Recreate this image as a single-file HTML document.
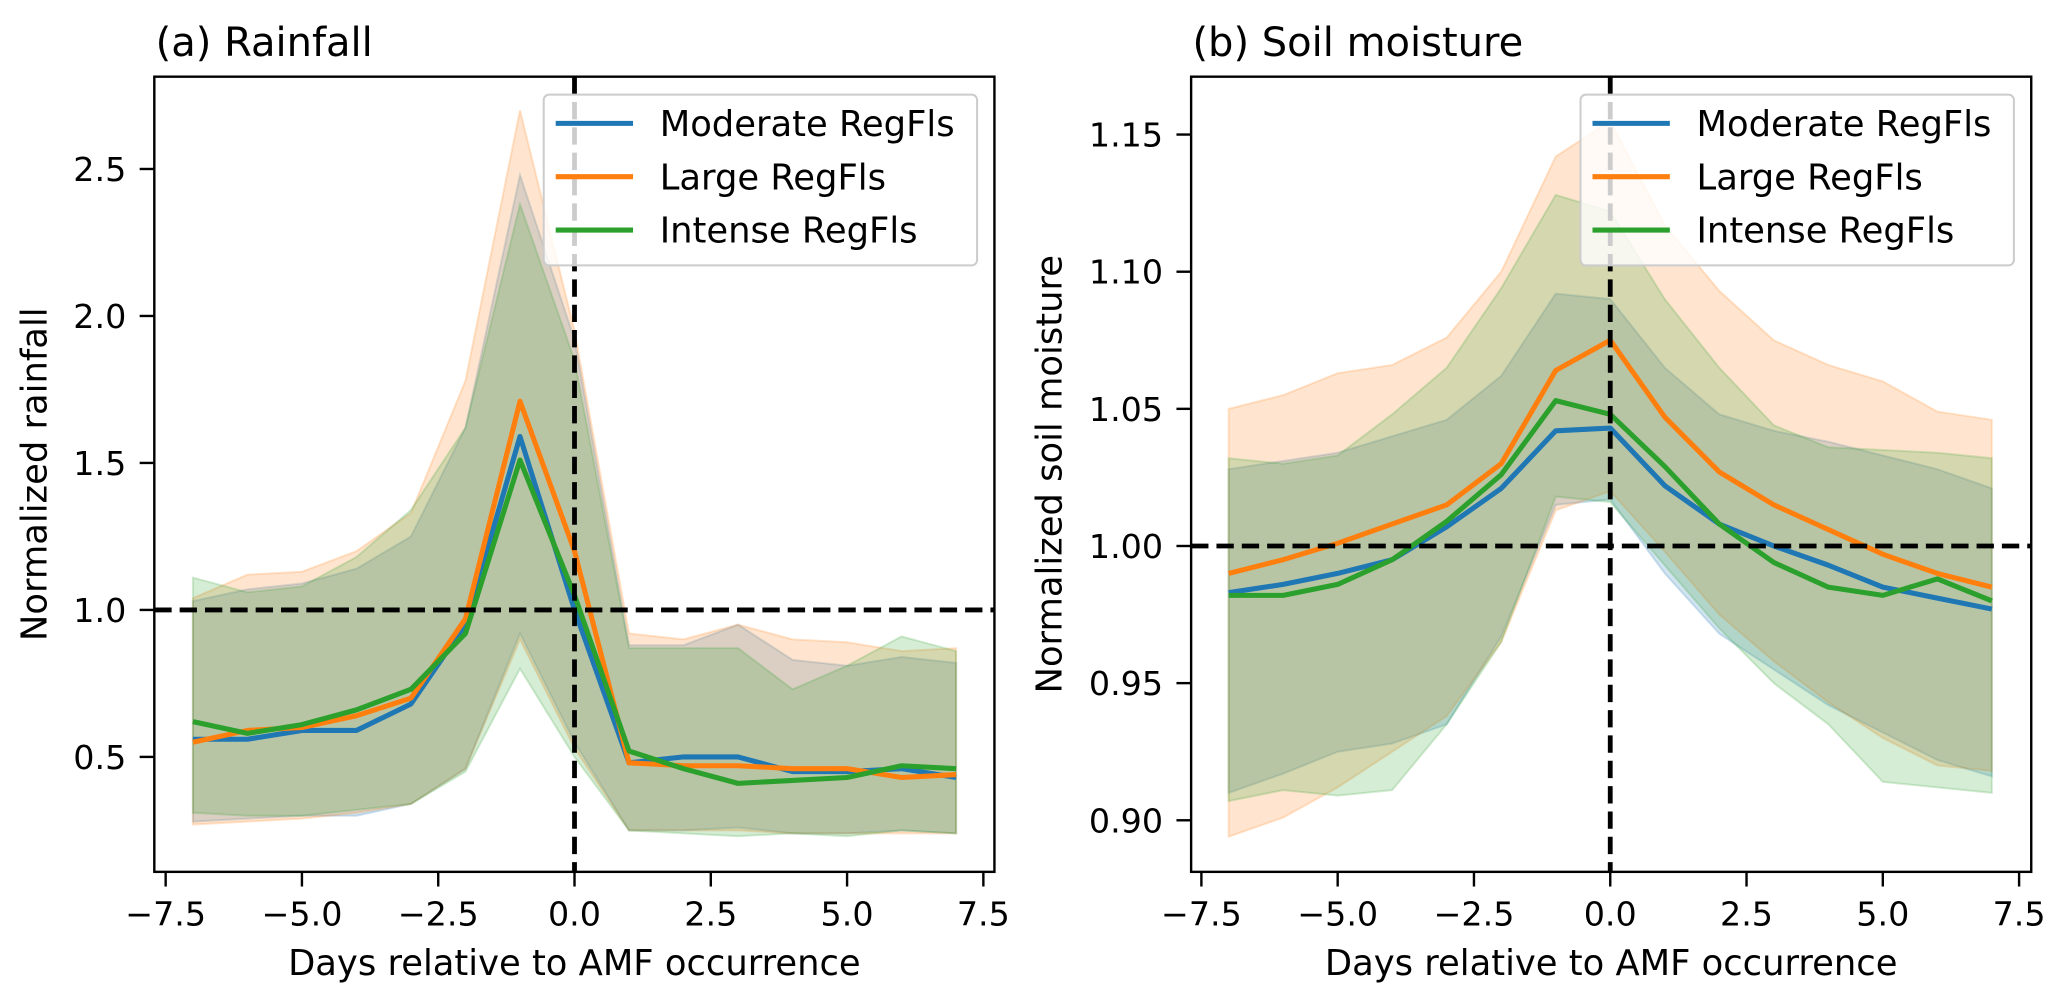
<!DOCTYPE html>
<html><head><meta charset="utf-8"><style>
html,body{margin:0;padding:0;background:#fff;overflow:hidden}
svg text{font-family:"DejaVu Sans","Liberation Sans",sans-serif;fill:#000}
</style></head><body>
<svg id="chart" width="2067" height="1002" viewBox="0 0 1550 751.4" xmlns="http://www.w3.org/2000/svg"></svg>
<script>
const days=[-7,-6,-5,-4,-3,-2,-1,0,1,2,3,4,5,6,7];
const seriesNames=["Moderate RegFls","Large RegFls","Intense RegFls"];
const colors=["#1f77b4","#ff7f0e","#2ca02c"];
const rainMean=[
[.56,.56,.59,.59,.68,.95,1.59,1.0,.48,.50,.50,.45,.45,.46,.43],
[.55,.59,.60,.64,.70,.97,1.71,1.2,.48,.47,.47,.46,.46,.43,.44],
[.62,.58,.61,.66,.73,.92,1.51,1.05,.52,.46,.41,.42,.43,.47,.46]];
const rainUpper=[
[1.03,1.07,1.09,1.14,1.25,1.62,2.48,1.92,.88,.88,.95,.83,.81,.84,.82],
[1.04,1.12,1.13,1.20,1.33,1.78,2.70,1.95,.92,.90,.95,.90,.89,.86,.87],
[1.11,1.06,1.08,1.18,1.34,1.62,2.38,1.85,.87,.87,.87,.73,.81,.91,.86]];
const rainLower=[
[.28,.29,.30,.30,.34,.46,.92,.55,.25,.25,.26,.24,.24,.25,.24],
[.27,.28,.29,.31,.34,.46,.90,.53,.25,.25,.25,.24,.24,.24,.24],
[.31,.30,.30,.32,.34,.45,.80,.50,.25,.24,.23,.24,.23,.25,.24]];
const soilMean=[
[.983,.986,.990,.995,1.007,1.021,1.042,1.043,1.022,1.008,1.000,.993,.985,.981,.977],
[.990,.995,1.001,1.008,1.015,1.030,1.064,1.075,1.047,1.027,1.015,1.006,.997,.990,.985],
[.982,.982,.986,.995,1.009,1.026,1.053,1.048,1.029,1.008,.994,.985,.982,.988,.980]];
const soilUpper=[
[1.028,1.031,1.034,1.040,1.046,1.062,1.092,1.090,1.065,1.048,1.042,1.038,1.033,1.028,1.021],
[1.050,1.055,1.063,1.066,1.076,1.100,1.142,1.155,1.117,1.093,1.075,1.066,1.060,1.049,1.046],
[1.032,1.030,1.033,1.048,1.065,1.094,1.128,1.122,1.090,1.065,1.044,1.036,1.035,1.034,1.032]];
const soilLower=[
[.910,.917,.925,.928,.935,.967,1.015,1.017,.990,.968,.955,.942,.932,.922,.916],
[.894,.901,.912,.925,.938,.965,1.013,1.020,.998,.975,.958,.943,.930,.920,.918],
[.907,.911,.909,.911,.935,.965,1.018,1.016,.993,.970,.950,.935,.914,.912,.910]];
const xTicks=[-7.5,-5.0,-2.5,0.0,2.5,5.0,7.5];
const rainYTicks=[0.5,1.0,1.5,2.0,2.5];
const soilYTicks=[0.90,0.95,1.00,1.05,1.10,1.15];

const svg=document.getElementById('chart');
const NS="http://www.w3.org/2000/svg";
function mk(tag,attrs,parent,name,txt){const e=document.createElementNS(NS,tag);for(const k in attrs)e.setAttribute(k,attrs[k]);


if(txt!==undefined)e.textContent=txt;parent.appendChild(e);return e;}

function panel(cfg){
 const g=mk('g',{},svg,cfg.name);
 const L=cfg.left,R=cfg.left+630,T=57.5,B=653.8;
 const xs=v=>cfg.x0+v*40.88;
 const ys=v=>T+(cfg.ymax-v)/(cfg.ymax-cfg.ymin)*(B-T);
 for(let s=0;s<3;s++){
  let d='';days.forEach((x,i)=>{d+=(i?'L':'M')+xs(x)+','+ys(cfg.upper[s][i]);});
  for(let i=days.length-1;i>=0;i--)d+='L'+xs(days[i])+','+ys(cfg.lower[s][i]);
  mk('path',{d:d+'Z',fill:colors[s],'fill-opacity':0.2,stroke:colors[s],'stroke-opacity':0.2,'stroke-width':1.5},g,'band-'+s);
 }
 for(let s=0;s<3;s++){
  const pts=days.map((x,i)=>xs(x)+','+ys(cfg.mean[s][i])).join(' ');
  mk('polyline',{points:pts,fill:'none',stroke:colors[s],'stroke-width':3.8,'stroke-linejoin':'round'},g,'line-'+seriesNames[s].toLowerCase().replace(/ /g,'-'));
 }
 mk('line',{x1:L,x2:R,y1:ys(1),y2:ys(1),stroke:'#000','stroke-width':3.6,'stroke-dasharray':'13,6'},g,'reference-line-horizontal');
 mk('line',{x1:xs(0),x2:xs(0),y1:T,y2:B,stroke:'#000','stroke-width':3.6,'stroke-dasharray':'13,6'},g,'reference-line-vertical');
 mk('rect',{x:L,y:T,width:R-L,height:B-T,fill:'none',stroke:'#000','stroke-width':1.8},g,'axes-frame');
 xTicks.forEach(t=>{const x=xs(t);
  mk('line',{x1:x,x2:x,y1:B,y2:B+11,stroke:'#000','stroke-width':1.8},g,'x-tick');
  mk('text',{x:x,y:694,'font-size':25,'text-anchor':'middle'},g,'x-tick-label',(t<0?'\u2212':'')+Math.abs(t).toFixed(1));});
 cfg.yTicks.forEach(t=>{const y=ys(t);
  mk('line',{x1:L-11,x2:L,y1:y,y2:y,stroke:'#000','stroke-width':1.8},g,'y-tick');
  mk('text',{x:L-21,y:y+9,'font-size':25,'text-anchor':'end'},g,'y-tick-label',t.toFixed(cfg.dec));});
 mk('text',{x:(L+R)/2,y:731,'font-size':26.5,'text-anchor':'middle'},g,'x-axis-title','Days relative to AMF occurrence');
 mk('text',{x:0,y:0,'font-size':26.5,'text-anchor':'middle',transform:`translate(${cfg.ylabX},${(T+B)/2}) rotate(-90)`},g,'y-axis-title',cfg.ylabel);
 mk('text',{x:L+1,y:42,'font-size':30},g,'panel-title',cfg.title);
 const lg=mk('g',{},g,'legend');
 mk('rect',{x:R-338,y:71,width:325,height:128,rx:4,fill:'#fff','fill-opacity':0.8,stroke:'#ccc','stroke-width':1.5},lg,'legend-box');
 for(let s=0;s<3;s++){const y=92.5+s*40;
  mk('line',{x1:R-329,x2:R-271,y1:y,y2:y,stroke:colors[s],'stroke-width':3.8},lg,'legend-swatch');
  mk('text',{x:R-251,y:y+9.5,'font-size':26.5},lg,'legend-entry',seriesNames[s]);}
}
panel({name:'rainfall-panel',left:115.7,x0:430.8,ymin:0.109,ymax:2.814,mean:rainMean,upper:rainUpper,lower:rainLower,yTicks:rainYTicks,dec:1,ylabel:'Normalized rainfall',ylabX:35,title:'(a) Rainfall'});
panel({name:'soil-moisture-panel',left:893.2,x0:1207.5,ymin:0.8812,ymax:1.1711,mean:soilMean,upper:soilUpper,lower:soilLower,yTicks:soilYTicks,dec:2,ylabel:'Normalized soil moisture',ylabX:796,title:'(b) Soil moisture'});
</script>
</body></html>
